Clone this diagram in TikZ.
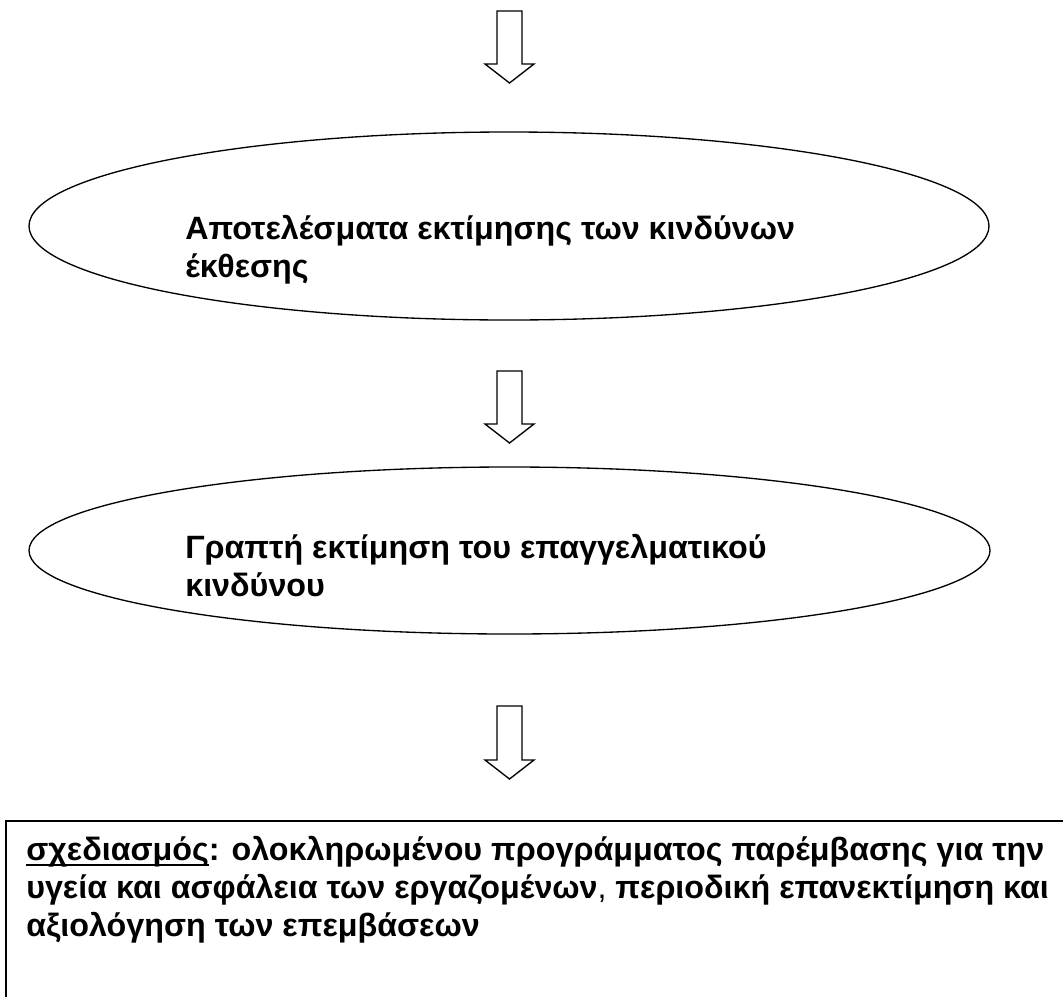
\documentclass[tikz,border=0pt]{standalone}
\usepackage{fontspec}
\setmainfont{Liberation Sans}
\usetikzlibrary{shapes.geometric}
\newcommand\ulword[1]{\setbox0\hbox{#1}\rlap{\rule[-4.6pt]{\wd0}{1.9pt}}\box0}
\tikzset{
  x=0.75pt, y=-0.75pt,
  oval/.style={draw, ellipse, line width=1pt, inner sep=0pt},
  blockarrow/.style={draw, line width=1pt, line join=miter, fill=white},
  txt/.style={anchor=base west, inner sep=0pt, font=\fontsize{24.2}{29}\bfseries\selectfont},
  planbox/.style={draw, line width=1.2pt, anchor=north west, inner sep=0pt}
}
\newcommand\downarrowshape[3]{% x center, top y, tip y
  \draw[blockarrow] (#1-12.5,#2) -- (#1+12.5,#2) -- (#1+12.5,#3-19) -- (#1+24.5,#3-19)
    -- (#1,#3) -- (#1-24.5,#3-19) -- (#1-12.5,#3-19) -- cycle;}
\begin{document}
\begin{tikzpicture}
\useasboundingbox (0,0) rectangle (1063,996);
\clip (0,0) rectangle (1063,996);
% arrows
\downarrowshape{509.5}{11}{83}
\node[oval, minimum width=720pt, minimum height=141pt] (e1) at (509,226) {};
\node[txt] (t1a) at (185,239) {Αποτελέσματα εκτίμησης των κινδύνων};
\node[txt] (t1b) at (185,277) {έκθεσης};
\downarrowshape{509.5}{371}{443}
\node[oval, minimum width=720.75pt, minimum height=125.25pt] (e2) at (509.5,550.5) {};
\node[txt] (t2a) at (185,558) {Γραπτή εκτίμηση του επαγγελματικού};
\node[txt] (t2b) at (185,596) {κινδύνου};
\downarrowshape{509.5}{706}{779}
\node[planbox, minimum width=810pt, minimum height=150pt] (box) at (5,820) {};
\node[txt] (t3a) at (26,860) {\ulword{σχεδιασμός}: ολοκληρωμένου προγράμματος παρέμβασης για την};
\node[txt] (t3b) at (26,898) {υγεία και ασφάλεια των εργαζομένων{\mdseries ,} περιοδική επανεκτίμηση και};
\node[txt] (t3c) at (26,936) {αξιολόγηση των επεμβάσεων};
\end{tikzpicture}
\end{document}
